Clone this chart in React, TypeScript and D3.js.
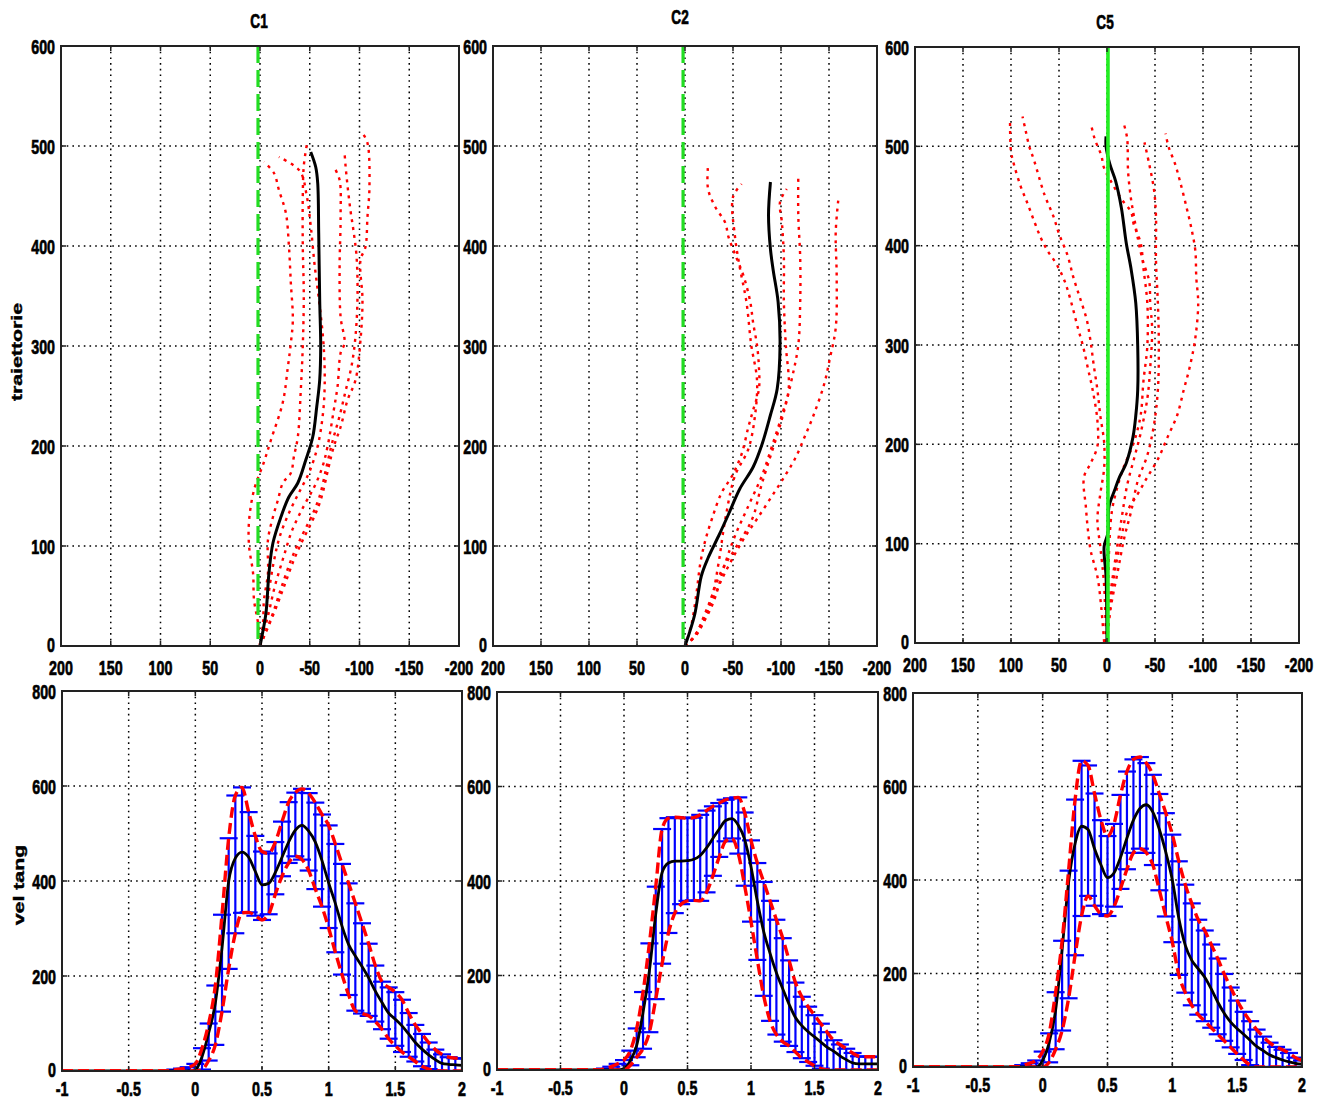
import React from 'react';
import * as d3 from 'd3';

// ---------- labels & ticks ----------
const TITLES = ['C1', 'C2', 'C5'];
const TRAJ_Y_LABEL = 'traiettorie';
const VEL_Y_LABEL = 'vel tang';
const TRAJ_X_TICKS = [200, 150, 100, 50, 0, -50, -100, -150, -200];
const TRAJ_Y_TICKS = [0, 100, 200, 300, 400, 500, 600];
const VEL_X_TICKS = [-1, -0.5, 0, 0.5, 1, 1.5, 2];
const VEL_Y_TICKS = [0, 200, 400, 600, 800];

// ---------- trajectories: [lateral, forward] ----------
const C1_MEAN = [[0, 0], [-2, 10], [-6, 33], [-9, 73], [-13, 103], [-21, 129], [-29, 149], [-38, 163], [-46, 186], [-53, 209], [-57, 239], [-60, 266], [-61, 300], [-60, 346], [-59, 413], [-58, 463], [-56, 479], [-51, 494]];
const C1_TRIALS = [
  [[0, 0], [2, 23], [6, 46], [7, 73], [11, 100], [11, 125], [6, 156], [-4, 184], [-11, 206], [-23, 244], [-28, 279], [-31, 303], [-33, 326], [-31, 363], [-29, 401], [-26, 433], [-19, 456], [-14, 473], [-4, 484]],
  [[0, 0], [-3, 23], [-4, 46], [-8, 73], [-8, 106], [-13, 129], [-18, 146], [-23, 163], [-31, 173], [-34, 189], [-38, 209], [-41, 256], [-43, 300], [-44, 350], [-43, 400], [-43, 450], [-44, 480], [-47, 501]],
  [[0, 0], [-5, 25], [-9, 55], [-14, 85], [-20, 110], [-30, 135], [-40, 155], [-50, 175], [-58, 200], [-63, 230], [-65, 260], [-64, 300], [-60, 340], [-55, 380], [-51, 420], [-47, 450], [-40, 475], [-19, 489]],
  [[0, 0], [-14, 33], [-24, 59], [-34, 86], [-43, 106], [-53, 126], [-61, 146], [-69, 179], [-74, 199], [-81, 219], [-88, 246], [-96, 266], [-101, 306], [-103, 346], [-101, 386], [-106, 399], [-108, 429], [-110, 459], [-108, 503], [-103, 513]],
  [[0, 0], [-8, 30], [-15, 60], [-24, 90], [-32, 115], [-44, 140], [-55, 160], [-63, 180], [-68, 200], [-74, 235], [-78, 260], [-81, 293], [-85, 303], [-81, 329], [-80, 379], [-81, 429], [-80, 466], [-75, 478]],
  [[0, 0], [-12, 30], [-22, 60], [-32, 88], [-42, 110], [-52, 130], [-60, 150], [-67, 180], [-73, 205], [-80, 230], [-86, 255], [-92, 280], [-96, 310], [-98, 350], [-97, 390], [-94, 415], [-91, 435], [-88, 460], [-86, 480], [-85, 493]],
];
const C2_MEAN = [[0, 0], [-10, 31], [-17, 70], [-24, 88], [-35, 110], [-45, 131], [-57, 157], [-71, 179], [-80, 201], [-89, 231], [-96, 257], [-99, 301], [-97, 344], [-92, 375], [-89, 397], [-87, 431], [-89, 464]];
const C2_TRIALS = [
  [[0, 0], [-7, 23], [-12, 53], [-16, 83], [-21, 105], [-28, 127], [-38, 153], [-49, 170], [-59, 192], [-66, 219], [-71, 236], [-77, 257], [-77, 279], [-75, 301], [-71, 323], [-68, 344], [-61, 370], [-52, 392], [-45, 410], [-42, 423], [-31, 440], [-24, 457], [-24, 481]],
  [[0, 0], [-14, 14], [-28, 49], [-35, 83], [-42, 127], [-52, 170], [-66, 197], [-73, 231], [-75, 266], [-69, 301], [-64, 344], [-57, 379], [-52, 410], [-50, 449], [-59, 462]],
  [[0, 0], [-10, 10], [-28, 40], [-42, 83], [-52, 110], [-66, 140], [-80, 170], [-91, 201], [-101, 231], [-108, 257], [-105, 301], [-103, 344], [-103, 388], [-101, 423], [-99, 444], [-106, 457]],
  [[0, 0], [-10, 10], [-24, 40], [-38, 75], [-52, 97], [-70, 127], [-80, 162], [-101, 227], [-111, 266], [-118, 301], [-120, 344], [-120, 388], [-118, 431], [-118, 470]],
  [[0, 0], [-10, 10], [-24, 36], [-38, 66], [-52, 92], [-63, 110], [-75, 127], [-90, 149], [-104, 170], [-115, 188], [-125, 210], [-134, 231], [-145, 262], [-151, 288], [-157, 318], [-158, 370], [-157, 414], [-160, 449]],
];
const C5_MEAN = [[0, 0], [1, 67], [3, 97], [-1, 111], [-2, 137], [-8, 154], [-13, 167], [-20, 181], [-27, 207], [-30, 229], [-32, 255], [-32, 299], [-30, 342], [-25, 377], [-20, 403], [-15, 438], [-9, 465], [-3, 482], [1, 500], [1, 510]];
const C5_TRIALS = [
  [[3, 1], [6, 36], [10, 67], [17, 93], [20, 115], [22, 137], [24, 167], [17, 181], [10, 198], [10, 224], [15, 255], [20, 277], [25, 299], [30, 316], [37, 342], [44, 364], [53, 382], [62, 395], [69, 408], [76, 425], [83, 443], [90, 460], [97, 482], [100, 495], [101, 528]],
  [[1, 1], [3, 58], [7, 97], [10, 124], [7, 150], [3, 176], [3, 202], [7, 229], [10, 255], [14, 281], [17, 303], [21, 325], [28, 347], [35, 368], [41, 390], [50, 412], [56, 430], [65, 451], [76, 486], [81, 500], [85, 517], [88, 530]],
  [[0, 1], [-1, 36], [-2, 89], [-5, 132], [-10, 154], [-17, 176], [-28, 202], [-35, 229], [-38, 264], [-42, 299], [-42, 342], [-38, 377], [-35, 403], [-28, 421], [-25, 434], [-15, 447], [-4, 465], [3, 478], [6, 491], [13, 508], [17, 524]],
  [[0, 1], [-2, 36], [-8, 80], [-15, 124], [-21, 159], [-28, 185], [-35, 211], [-42, 246], [-45, 277], [-47, 316], [-45, 342], [-44, 364], [-37, 386], [-32, 408], [-28, 430], [-25, 447], [-22, 474], [-21, 508], [-18, 521]],
  [[0, 1], [-4, 36], [-11, 71], [-18, 106], [-25, 132], [-32, 163], [-42, 189], [-49, 220], [-53, 255], [-54, 299], [-53, 342], [-51, 386], [-51, 430], [-49, 456], [-44, 482], [-39, 504]],
  [[0, 1], [-2, 27], [-8, 71], [-15, 106], [-21, 132], [-32, 150], [-42, 167], [-53, 185], [-63, 207], [-73, 229], [-80, 255], [-86, 277], [-92, 307], [-95, 342], [-93, 368], [-92, 395], [-88, 417], [-83, 438], [-76, 465], [-71, 482], [-64, 500], [-61, 513]],
];
// reference line (lateral position) per condition
const GUIDE_X = [2, 2, -1];

// ---------- tangential velocity ----------
const TIME = [
  -1, -0.95, -0.9, -0.85, -0.8, -0.75, -0.7, -0.65, -0.6, -0.55,
  -0.5, -0.45, -0.4, -0.35, -0.3, -0.25, -0.2, -0.15, -0.1, -0.05,
  0, 0.05, 0.1, 0.15, 0.2, 0.25, 0.3, 0.35, 0.4, 0.45,
  0.5, 0.55, 0.6, 0.65, 0.7, 0.75, 0.8, 0.85, 0.9, 0.95,
  1, 1.05, 1.1, 1.15, 1.2, 1.25, 1.3, 1.35, 1.4, 1.45,
  1.5, 1.55, 1.6, 1.65, 1.7, 1.75, 1.8, 1.85, 1.9, 1.95, 2,
];
const C1_VEL_MEAN = [
  0, 0, 0, 0, 0, 0, 0, 0, 0, 0, 0, 0, 0, 0, 0, 0, 0, 0, 0, 0,
  2, 30, 80, 143, 259, 399, 448, 461, 450, 420,
  392, 395, 418, 450, 482, 507, 517, 505, 482, 443,
  396, 353, 305, 266, 242, 220, 196, 168, 144, 122,
  109, 95, 78, 60, 46, 34, 24, 16, 14, 13, 12,
];
const C1_VEL_UPPER = [
  0, 0, 0, 0, 0, 0, 0, 0, 0, 0, 0, 0, 0, 0, 0, 0, 0, 3, 5, 8,
  15, 48, 100, 180, 329, 490, 580, 597, 545, 495,
  462, 458, 482, 525, 566, 586, 594, 585, 565, 540,
  517, 478, 436, 395, 353, 311, 268, 222, 188, 176,
  166, 150, 122, 97, 78, 60, 45, 35, 29, 27, 26,
];
const C1_VEL_LOWER = [
  0, 0, 0, 0, 0, 0, 0, 0, 0, 0, 0, 0, 0, 0, 0, 0, 0, 0, 0, 0,
  0, 3, 22, 55, 125, 215, 290, 333, 334, 327,
  318, 330, 372, 410, 438, 452, 445, 422, 383, 346,
  301, 250, 203, 160, 127, 121, 116, 104, 88, 68,
  53, 40, 30, 20, 10, 4, 1, 0, 0, 0, 0,
];
const C2_VEL_MEAN = [
  0, 0, 0, 0, 0, 0, 0, 0, 0, 0, 0, 0, 0, 0, 0, 0, 0, 0, 0, 0,
  3, 20, 52, 122, 210, 330, 418, 438, 442, 442,
  443, 446, 454, 470, 490, 510, 528, 532, 518, 488,
  430, 357, 293, 247, 206, 172, 139, 111, 94, 81,
  70, 59, 48, 40, 30, 22, 15, 13, 13, 13, 13,
];
const C2_VEL_UPPER = [
  0, 0, 0, 0, 0, 0, 0, 0, 0, 0, 0, 0, 0, 0, 0, 0, 0, 3, 7, 13,
  21, 41, 88, 165, 268, 388, 510, 533, 535, 534,
  533, 534, 540, 549, 558, 565, 572, 575, 577, 545,
  486, 438, 398, 358, 318, 279, 232, 185, 155, 134,
  116, 98, 80, 63, 54, 45, 36, 29, 28, 28, 28,
];
const C2_VEL_LOWER = [
  0, 0, 0, 0, 0, 0, 0, 0, 0, 0, 0, 0, 0, 0, 0, 0, 0, 0, 0, 0,
  0, 10, 27, 45, 80, 150, 225, 290, 332, 351,
  358, 359, 358, 376, 411, 451, 484, 490, 458, 390,
  314, 233, 157, 104, 75, 60, 51, 38, 25, 17,
  9, 3, 0, 0, 0, 0, 0, 0, 0, 0, 0,
];
const C5_VEL_MEAN = [
  0, 0, 0, 0, 0, 0, 0, 0, 0, 0, 0, 0, 0, 0, 0, 0, 0, 0, 0, 0,
  14, 52, 122, 252, 395, 478, 515, 508, 467, 432,
  405, 415, 448, 490, 528, 553, 561, 545, 508, 459,
  400, 318, 260, 228, 210, 192, 167, 139, 115, 96,
  82, 70, 57, 44, 35, 26, 20, 15, 11, 8, 6,
];
const C5_VEL_UPPER = [
  0, 0, 0, 0, 0, 0, 0, 0, 0, 0, 0, 0, 0, 0, 0, 0, 0, 4, 8, 14,
  33, 72, 160, 270, 420, 572, 655, 645, 585, 528,
  494, 520, 582, 632, 658, 663, 650, 625, 584, 543,
  497, 440, 390, 350, 315, 292, 262, 232, 199, 170,
  142, 118, 98, 80, 65, 52, 43, 37, 30, 20, 14,
];
const C5_VEL_LOWER = [
  0, 0, 0, 0, 0, 0, 0, 0, 0, 0, 0, 0, 0, 0, 0, 0, 0, 0, 0, 0,
  0, 10, 38, 78, 147, 239, 323, 366, 345, 327,
  323, 343, 381, 423, 458, 467, 458, 432, 378, 322,
  267, 197, 159, 132, 112, 98, 84, 70, 56, 42,
  28, 15, 4, 0, 0, 0, 0, 0, 0, 0, 0,
];

const TRAJ_MEANS = [C1_MEAN, C2_MEAN, C5_MEAN];
const TRAJ_TRIALS = [C1_TRIALS, C2_TRIALS, C5_TRIALS];
const VEL_MEANS = [C1_VEL_MEAN, C2_VEL_MEAN, C5_VEL_MEAN];
const VEL_UPPERS = [C1_VEL_UPPER, C2_VEL_UPPER, C5_VEL_UPPER];
const VEL_LOWERS = [C1_VEL_LOWER, C2_VEL_LOWER, C5_VEL_LOWER];

// ---------- layout ----------
type Box = { x0: number; x1: number; y0: number; y1: number };
const TRAJ_BOXES: Box[] = [
  { x0: 61, x1: 459, y0: 46, y1: 646 },
  { x0: 493, x1: 877, y0: 46, y1: 646 },
  { x0: 915, x1: 1299, y0: 47, y1: 643 },
];
const VEL_BOXES: Box[] = [
  { x0: 62, x1: 462, y0: 691, y1: 1071 },
  { x0: 497, x1: 878, y0: 692, y1: 1070 },
  { x0: 913, x1: 1302, y0: 693, y1: 1067 },
];
const TITLE_POS = [[259, 28], [680, 24], [1105, 29]];

const FONT = "'Liberation Sans', Arial, Helvetica, sans-serif";
const SQUEEZE = 0.68;

function Label({ x, y, text, anchor = 'middle', size = 21, dy = '0' }: any) {
  return (
    <g transform={`translate(${x},${y}) scale(${SQUEEZE},1)`}>
      <text textAnchor={anchor} dy={dy} fontFamily={FONT} fontWeight={700} fontSize={size}
        fill="#000" stroke="#000" strokeWidth={0.7}>
        {text}
      </text>
    </g>
  );
}

function Grid({ box, xs, ys, xTicks, yTicks }: any) {
  const dash = '1.6,4.1';
  return (
    <g stroke="#000" strokeWidth={1.5} strokeDasharray={dash}>
      {xTicks.slice(1, -1).map((t: number) => (
        <line key={'gx' + t} x1={xs(t)} x2={xs(t)} y1={box.y0} y2={box.y1} />
      ))}
      {yTicks.slice(1, -1).map((t: number) => (
        <line key={'gy' + t} x1={box.x0} x2={box.x1} y1={ys(t)} y2={ys(t)} />
      ))}
    </g>
  );
}

function Frame({ box, xs, ys, xTicks, yTicks, fmt, labelGap }: any) {
  const tl = 5;
  return (
    <g>
      <g stroke="#222" strokeWidth={1.5}>
        {xTicks.map((t: number) => (
          <g key={'tx' + t}>
            <line x1={xs(t)} x2={xs(t)} y1={box.y1} y2={box.y1 - tl} />
            <line x1={xs(t)} x2={xs(t)} y1={box.y0} y2={box.y0 + tl} />
          </g>
        ))}
        {yTicks.map((t: number) => (
          <g key={'ty' + t}>
            <line x1={box.x0} x2={box.x0 + tl} y1={ys(t)} y2={ys(t)} />
            <line x1={box.x1} x2={box.x1 - tl} y1={ys(t)} y2={ys(t)} />
          </g>
        ))}
      </g>
      <rect x={box.x0} y={box.y0} width={box.x1 - box.x0} height={box.y1 - box.y0} fill="none" stroke="#222" strokeWidth={2} />
      {xTicks.map((t: number) => (
        <Label key={'lx' + t} x={xs(t)} y={box.y1 + labelGap} text={fmt(t)} />
      ))}
      {yTicks.map((t: number) => (
        <Label key={'ly' + t} x={box.x0 - 6} y={ys(t) - (t === 0 ? 2 : 0)} text={String(t)} anchor="end" dy="0.36em" />
      ))}
    </g>
  );
}

function TrajPanel({ i }: { i: number }) {
  const box = TRAJ_BOXES[i];
  const xs = d3.scaleLinear().domain([200, -200]).range([box.x0, box.x1]);
  const ys = d3.scaleLinear().domain([0, 600]).range([box.y1, box.y0]);
  const line = d3.line<number[]>().x(d => xs(d[0])).y(d => ys(d[1])).curve(d3.curveCatmullRom.alpha(0.5));
  const gx = xs(GUIDE_X[i]);
  const clip = `traj-clip-${i}`;
  return (
    <g>
      <defs>
        <clipPath id={clip}>
          <rect x={box.x0} y={box.y0} width={box.x1 - box.x0} height={box.y1 - box.y0} />
        </clipPath>
      </defs>
      <Grid box={box} xs={xs} ys={ys} xTicks={TRAJ_X_TICKS} yTicks={TRAJ_Y_TICKS} />
      <g clipPath={`url(#${clip})`}>
        {TRAJ_TRIALS[i].map((tr, k) => (
          <path key={k} d={line(tr as number[][]) || ''} fill="none" stroke="#ff0000" strokeWidth={2.4} strokeDasharray="3,5" />
        ))}
        <path d={line(TRAJ_MEANS[i] as number[][]) || ''} fill="none" stroke="#000" strokeWidth={3} />
        {i < 2 ? (
          <line x1={gx} x2={gx} y1={ys(600)} y2={ys(0)} stroke="#22dd22" strokeWidth={3.2} strokeDasharray="17,7" />
        ) : (
          <line x1={gx} x2={gx} y1={ys(600)} y2={ys(0)} stroke="#22ee22" strokeWidth={3.6} />
        )}
      </g>
      <Frame box={box} xs={xs} ys={ys} xTicks={TRAJ_X_TICKS} yTicks={TRAJ_Y_TICKS}
        fmt={(t: number) => String(t)} labelGap={29} />
      <Label x={TITLE_POS[i][0]} y={TITLE_POS[i][1]} text={TITLES[i]} size={20} />
    </g>
  );
}

function VelPanel({ i }: { i: number }) {
  const box = VEL_BOXES[i];
  const xs = d3.scaleLinear().domain([-1, 2]).range([box.x0, box.x1]);
  const ys = d3.scaleLinear().domain([0, 800]).range([box.y1, box.y0]);
  const mean = VEL_MEANS[i], up = VEL_UPPERS[i], lo = VEL_LOWERS[i];
  const mk = (vals: number[]) =>
    d3.line<number>().x((_, k) => xs(TIME[k])).y(v => ys(v)).curve(d3.curveMonotoneX)(vals) || '';
  const clip = `vel-clip-${i}`;
  const cap = 9;
  return (
    <g>
      <defs>
        <clipPath id={clip}>
          <rect x={box.x0} y={box.y0} width={box.x1 - box.x0} height={box.y1 - box.y0} />
        </clipPath>
      </defs>
      <Grid box={box} xs={xs} ys={ys} xTicks={VEL_X_TICKS} yTicks={VEL_Y_TICKS} />
      <g clipPath={`url(#${clip})`}>
        <g stroke="#0000ff">
          {TIME.map((t, k) => {
            if (up[k] - lo[k] < 1) return null;
            const x = xs(t);
            return (
              <g key={k}>
                <line x1={x} x2={x} y1={ys(lo[k])} y2={ys(up[k])} strokeWidth={2.2} />
                <line x1={x - cap} x2={x + cap} y1={ys(lo[k])} y2={ys(lo[k])} strokeWidth={2.2} />
                <line x1={x - cap} x2={x + cap} y1={ys(up[k])} y2={ys(up[k])} strokeWidth={2.2} />
              </g>
            );
          })}
        </g>
        <path d={mk(mean)} fill="none" stroke="#000" strokeWidth={2.8} />
        <path d={mk(up)} fill="none" stroke="#ff0000" strokeWidth={3.4} strokeDasharray="11,5" />
        <path d={mk(lo)} fill="none" stroke="#ff0000" strokeWidth={3.4} strokeDasharray="11,5" />
      </g>
      <Frame box={box} xs={xs} ys={ys} xTicks={VEL_X_TICKS} yTicks={VEL_Y_TICKS}
        fmt={(t: number) => String(t)} labelGap={25} />
    </g>
  );
}

function SideLabel({ x, y, text }: any) {
  return (
    <g transform={`translate(${x},${y}) rotate(-90) scale(1.42,1)`}>
      <text textAnchor="middle" dy="0.35em" fontFamily={FONT} fontWeight={700} fontSize={15}
        fill="#000" stroke="#000" strokeWidth={0.4}>
        {text}
      </text>
    </g>
  );
}

export default function App() {
  return (
    <svg width={1325} height={1102} viewBox="0 0 1325 1102"
      style={{ position: 'absolute', left: 0, top: 0, display: 'block', background: '#fff' }}>
      <rect x={0} y={0} width={1325} height={1102} fill="#fff" />
      {[0, 1, 2].map(i => <TrajPanel key={'t' + i} i={i} />)}
      {[0, 1, 2].map(i => <VelPanel key={'v' + i} i={i} />)}
      <SideLabel x={17} y={352} text={TRAJ_Y_LABEL} />
      <SideLabel x={19} y={885} text={VEL_Y_LABEL} />
    </svg>
  );
}
